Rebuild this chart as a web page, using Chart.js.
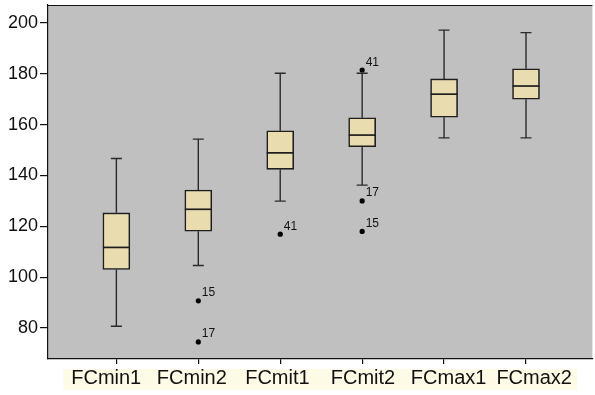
<!DOCTYPE html>
<html>
<head>
<meta charset="utf-8">
<script src="https://cdn.jsdelivr.net/npm/chart.js@4"></script>
<style>
  html, body { margin: 0; padding: 0; background: #ffffff; }
  #wrap { width: 595px; height: 395px; }
</style>
</head>
<body>
<div id="wrap"><canvas id="chart" width="595" height="395"></canvas></div>
<script>
// Heart-rate groups and their box-plot summaries
const categories  = ['FCmin1', 'FCmin2', 'FCmit1', 'FCmit2', 'FCmax1', 'FCmax2'];
const whiskerLow  = [80.7, 104.6, 129.9, 136.2, 154.8, 154.8];
const quartile1   = [103.0, 118.1, 142.4, 151.3, 162.9, 170.0];
const medians     = [111.7, 126.7, 148.9, 155.9, 172.0, 175.2];
const quartile3   = [125.3, 134.3, 157.6, 162.7, 178.0, 182.0];
const whiskerHigh = [146.7, 154.3, 180.2, 180.2, 197.2, 196.2];

// Outlying cases: group index, value, case number
const outlierGroup = [1, 1, 2, 3, 3, 3];
const outlierValue = [90.7, 74.5, 116.9, 181.5, 130.0, 118.0];
const outlierCase  = ['15', '17', '41', '41', '17', '15'];

const yTicks = [80, 100, 120, 140, 160, 180, 200];

const FONT = '"Liberation Sans", Arial, Helvetica, sans-serif';
const INK = '#111111';

const boxes = categories.map((c, i) => ({ x: i, y: [quartile1[i], quartile3[i]] }));
const outliers = outlierValue.map((v, i) => ({ x: outlierGroup[i], y: v }));

// keep the axes from reserving extra room for overhanging labels
function noOverhang(scale) {
  scale.paddingTop = 0;
  scale.paddingBottom = 0;
  scale.paddingLeft = 0;
  scale.paddingRight = 0;
}

const boxPlotPlugin = {
  id: 'boxPlot',
  beforeDraw(chart) {
    const { ctx, chartArea: a, scales } = chart;
    ctx.save();
    ctx.fillStyle = '#c0c0c0';
    ctx.fillRect(a.left, a.top, a.right - a.left, a.bottom - a.top);
    // pale band behind the group names
    const xl = scales.xl;
    const l = xl.getPixelForValue(-0.5);
    const r = xl.getPixelForValue(categories.length - 0.5);
    ctx.fillStyle = '#fdfae5';
    ctx.fillRect(l, xl.top + 5, r - l, 21);
    ctx.restore();
  },
  beforeDatasetsDraw(chart) {
    const { ctx, scales: { x, y } } = chart;
    ctx.save();
    ctx.strokeStyle = '#2a2a2a';
    ctx.lineWidth = 1.4;
    const cap = 5.5;
    categories.forEach((c, i) => {
      const px = x.getPixelForValue(i);
      const yl = y.getPixelForValue(whiskerLow[i]);
      const y1 = y.getPixelForValue(quartile1[i]);
      const y3 = y.getPixelForValue(quartile3[i]);
      const yh = y.getPixelForValue(whiskerHigh[i]);
      ctx.beginPath();
      ctx.moveTo(px, y1); ctx.lineTo(px, yl);
      ctx.moveTo(px - cap, yl); ctx.lineTo(px + cap, yl);
      ctx.moveTo(px, y3); ctx.lineTo(px, yh);
      ctx.moveTo(px - cap, yh); ctx.lineTo(px + cap, yh);
      ctx.stroke();
    });
    ctx.restore();
  },
  afterDatasetsDraw(chart) {
    const { ctx, chartArea: a, scales: { x, y } } = chart;
    ctx.save();
    // medians
    ctx.strokeStyle = '#1e1e1e';
    ctx.lineWidth = 1.7;
    const boxMeta = chart.getDatasetMeta(0);
    categories.forEach((c, i) => {
      const bar = boxMeta.data[i];
      const half = bar.width / 2;
      const px = x.getPixelForValue(i);
      const pm = y.getPixelForValue(medians[i]);
      ctx.beginPath();
      ctx.moveTo(px - half, pm); ctx.lineTo(px + half, pm);
      ctx.stroke();
    });
    // case numbers beside the outliers
    ctx.fillStyle = INK;
    ctx.font = '12px ' + FONT;
    ctx.textAlign = 'left';
    ctx.textBaseline = 'alphabetic';
    const ptMeta = chart.getDatasetMeta(1);
    ptMeta.data.forEach((pt, i) => {
      ctx.fillText(outlierCase[i], pt.x + 3.5, pt.y - 4.5);
    });
    // top edge of the plot frame
    ctx.strokeStyle = INK;
    ctx.lineWidth = 1.2;
    ctx.beginPath();
    ctx.moveTo(a.left, a.top + 0.5); ctx.lineTo(a.right, a.top + 0.5);
    ctx.stroke();
    ctx.restore();
  }
};

new Chart(document.getElementById('chart'), {
  type: 'scatter',
  data: {
    datasets: [
      {
        type: 'bar',
        label: 'box',
        data: boxes,
        backgroundColor: '#e9ddb0',
        borderColor: '#1e1e1e',
        borderWidth: 1.6,
        borderSkipped: false,
        barThickness: 27,
        xAxisID: 'x',
        yAxisID: 'y'
      },
      {
        type: 'scatter',
        label: 'outliers',
        data: outliers,
        pointRadius: 2.6,
        pointHoverRadius: 2.6,
        pointBackgroundColor: '#000000',
        pointBorderWidth: 0,
        xAxisID: 'x',
        yAxisID: 'y'
      }
    ]
  },
  options: {
    responsive: false,
    animation: false,
    devicePixelRatio: 1,
    layout: { padding: { left: 8, right: 0, top: 5, bottom: 5 } },
    plugins: {
      legend: { display: false },
      tooltip: { enabled: false },
      title: { display: false }
    },
    scales: {
      x: {
        type: 'linear',
        position: 'bottom',
        weight: 0,
        offset: false,
        min: -0.8346,
        max: 5.8104,
        afterBuildTicks(scale) { scale.ticks = categories.map((c, i) => ({ value: i })); },
        afterFit(scale) { noOverhang(scale); scale.height = 5; },
        ticks: { display: false },
        grid: { offset: false, drawOnChartArea: false, drawTicks: true, tickLength: 5, color: INK, lineWidth: 1.2 },
        border: { display: true, color: INK, width: 1.2 }
      },
      xl: {
        type: 'linear',
        position: 'bottom',
        weight: 1,
        offset: false,
        min: -0.6802,
        max: 5.6802,
        afterBuildTicks(scale) { scale.ticks = categories.map((c, i) => ({ value: i })); },
        afterFit(scale) { noOverhang(scale); scale.height = 26; },
        ticks: {
          padding: 2,
          autoSkip: false,
          maxRotation: 0,
          color: INK,
          font: { family: FONT, size: 20 },
          callback: (v) => categories[v] ?? ''
        },
        grid: { display: false, drawTicks: false },
        border: { display: false }
      },
      y: {
        type: 'linear',
        min: 67.8,
        max: 207.08,
        afterBuildTicks(scale) { scale.ticks = yTicks.map(v => ({ value: v })); },
        afterFit(scale) { noOverhang(scale); scale.width = 40; },
        ticks: {
          padding: 2,
          color: INK,
          font: { family: FONT, size: 18 }
        },
        grid: { drawOnChartArea: false, drawTicks: true, tickLength: 8, color: INK, lineWidth: 1.2 },
        border: { display: true, color: INK, width: 1.2 }
      }
    }
  },
  plugins: [boxPlotPlugin]
});
</script>
</body>
</html>
